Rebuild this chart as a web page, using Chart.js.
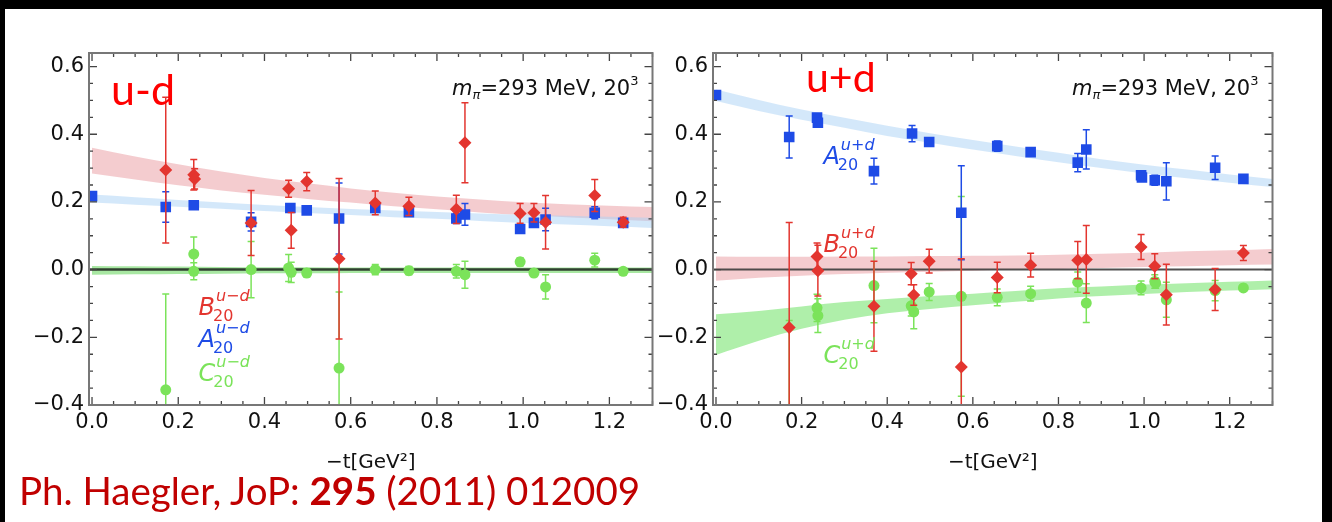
<!DOCTYPE html>
<html>
<head>
<meta charset="utf-8">
<script src="https://cdn.jsdelivr.net/npm/chart.js@4.4.1/dist/chart.umd.min.js"></script>
<style>
  html, body { margin: 0; padding: 0; width: 1332px; height: 522px; overflow: hidden; background: #000; }
  #sheet { position: absolute; left: 5px; top: 9px; width: 1317px; height: 513px; background: #fff; }
  .panel { position: absolute; top: 0; height: 475px; }
  #p1 { left: 0; width: 660px; }
  #p2 { left: 624px; width: 656px; }
  .tag { position: absolute; font-family: Lato, sans-serif; color: #ff0000; line-height: normal; white-space: nowrap; }
  #cite { position: absolute; left: 19px; top: 467px; font-family: Lato, sans-serif; font-size: 38.5px; color: #c00000; white-space: nowrap; line-height: normal; }
</style>
</head>
<body>
<div id="sheet"></div>
<div class="panel" id="p1"><canvas id="ud"></canvas></div>
<div class="panel" id="p2"><canvas id="upd"></canvas></div>
<div class="tag" style="left:111px; top:63px; font-size:43px;">u-d</div>
<div class="tag" style="left:806px; top:52px; font-size:41px;">u+d</div>
<div id="cite">Ph. Haegler, JoP: <b>295</b> (2011) 012009</div>
<script>
// axis setup
const X_MIN = -0.007, X_MAX = 1.3;
const Y_MIN = -0.4, Y_MAX = 0.64;
const xTicks = [0, 0.2, 0.4, 0.6, 0.8, 1.0, 1.2];
const yTicks = [-0.4, -0.2, 0, 0.2, 0.4, 0.6];

// ---- u-d : A20, B20, C20 vs -t ----
const tA_ud = [0, 0.171, 0.236, 0.369, 0.46, 0.498, 0.573, 0.657, 0.735, 0.845, 0.865, 0.993, 1.025, 1.052, 1.166, 1.232];
const A_ud  = [0.217, 0.185, 0.19, 0.141, 0.182, 0.175, 0.151, 0.182, 0.17, 0.151, 0.163, 0.12, 0.138, 0.148, 0.168, 0.138];
const dA_ud = [0.006, 0.045, 0.01, 0.027, 0.012, 0.008, 0.105, 0.012, 0.01, 0.015, 0.032, 0.008, 0.012, 0.033, 0.018, 0.008];

const tB_ud = [0.171, 0.236, 0.238, 0.369, 0.456, 0.462, 0.498, 0.573, 0.657, 0.735, 0.845, 0.865, 0.993, 1.025, 1.052, 1.166, 1.232];
const B_ud  = [0.294, 0.28, 0.268, 0.138, 0.239, 0.116, 0.26, 0.032, 0.197, 0.187, 0.178, 0.375, 0.166, 0.168, 0.14, 0.219, 0.14];
const dB_ud = [0.215, 0.045, 0.03, 0.096, 0.025, 0.053, 0.027, 0.237, 0.035, 0.027, 0.042, 0.118, 0.029, 0.027, 0.079, 0.047, 0.015];

const tC_ud = [0.171, 0.236, 0.236, 0.369, 0.456, 0.462, 0.498, 0.573, 0.657, 0.735, 0.845, 0.865, 0.993, 1.025, 1.052, 1.166, 1.232];
const C_ud  = [-0.355, 0.046, -0.005, 0.0, 0.005, -0.008, -0.01, -0.291, 0.0, -0.003, -0.005, -0.015, 0.023, -0.01, -0.051, 0.028, -0.005];
const dC_ud = [0.283, 0.05, 0.025, 0.083, 0.04, 0.03, 0.012, 0.225, 0.015, 0.012, 0.02, 0.04, 0.012, 0.01, 0.036, 0.02, 0.008];

// ---- u+d ----
const tA_upd = [0, 0.171, 0.236, 0.238, 0.369, 0.458, 0.498, 0.573, 0.657, 0.735, 0.845, 0.865, 0.993, 0.995, 1.025, 1.052, 1.166, 1.232];
const A_upd  = [0.516, 0.392, 0.449, 0.434, 0.291, 0.402, 0.377, 0.168, 0.365, 0.347, 0.316, 0.355, 0.279, 0.272, 0.264, 0.261, 0.301, 0.268];
const dA_upd = [0.008, 0.062, 0.01, 0.012, 0.038, 0.024, 0.01, 0.139, 0.015, 0.01, 0.027, 0.058, 0.01, 0.01, 0.015, 0.055, 0.035, 0.01];

const tB_upd = [0.171, 0.236, 0.238, 0.369, 0.456, 0.462, 0.498, 0.573, 0.657, 0.735, 0.845, 0.865, 0.993, 1.025, 1.052, 1.166, 1.232];
const B_upd  = [-0.171, 0.039, -0.003, -0.108, -0.012, -0.075, 0.025, -0.288, -0.023, 0.013, 0.028, 0.03, 0.067, 0.01, -0.074, -0.059, 0.049];
const dB_upd = [0.31, 0.04, 0.075, 0.133, 0.033, 0.03, 0.035, 0.32, 0.045, 0.035, 0.055, 0.1, 0.037, 0.037, 0.09, 0.062, 0.022];

const tC_upd = [0.171, 0.236, 0.238, 0.369, 0.456, 0.462, 0.498, 0.573, 0.657, 0.735, 0.845, 0.865, 0.993, 1.025, 1.027, 1.052, 1.166, 1.232];
const C_upd  = [-0.46, -0.113, -0.136, -0.047, -0.107, -0.125, -0.066, -0.079, -0.082, -0.071, -0.037, -0.099, -0.054, -0.035, -0.04, -0.089, -0.062, -0.054];
const dC_upd = [0.31, 0.04, 0.05, 0.11, 0.03, 0.05, 0.025, 0.295, 0.025, 0.022, 0.03, 0.057, 0.02, 0.02, 0.015, 0.052, 0.03, 0.01];

// fit bands (lower / upper edge) sampled in -t
const tBand = [0, 0.1, 0.2, 0.3, 0.4, 0.5, 0.6, 0.7, 0.8, 0.9, 1.0, 1.1, 1.2, 1.3];
const bandB_ud_lo = [0.284, 0.266, 0.249, 0.234, 0.221, 0.209, 0.198, 0.187, 0.178, 0.169, 0.161, 0.155, 0.149, 0.143];
const bandB_ud_hi = [0.360, 0.334, 0.311, 0.290, 0.271, 0.255, 0.240, 0.227, 0.216, 0.207, 0.199, 0.193, 0.189, 0.185];
const bandA_ud_lo = [0.198, 0.192, 0.186, 0.180, 0.173, 0.167, 0.161, 0.155, 0.150, 0.144, 0.138, 0.133, 0.128, 0.123];
const bandA_ud_hi = [0.222, 0.214, 0.206, 0.198, 0.191, 0.185, 0.179, 0.175, 0.170, 0.166, 0.162, 0.159, 0.156, 0.153];
const bandC_ud_lo = [-0.015, -0.014, -0.013, -0.012, -0.011, -0.011, -0.010, -0.010, -0.010, -0.010, -0.010, -0.010, -0.010, -0.010];
const bandC_ud_hi = [0.011, 0.010, 0.009, 0.008, 0.007, 0.007, 0.006, 0.006, 0.006, 0.006, 0.006, 0.006, 0.006, 0.006];

const bandA_upd_lo = [0.498, 0.469, 0.443, 0.419, 0.395, 0.375, 0.355, 0.336, 0.317, 0.300, 0.284, 0.270, 0.257, 0.244];
const bandA_upd_hi = [0.532, 0.501, 0.473, 0.449, 0.425, 0.403, 0.383, 0.364, 0.345, 0.326, 0.310, 0.296, 0.281, 0.268];
const bandB_upd_lo = [-0.033, -0.024, -0.018, -0.013, -0.009, -0.006, -0.003, 0.000, 0.002, 0.005, 0.008, 0.010, 0.013, 0.015];
const bandB_upd_hi = [0.039, 0.038, 0.038, 0.039, 0.039, 0.040, 0.041, 0.042, 0.044, 0.047, 0.050, 0.054, 0.057, 0.061];
const bandC_upd_lo = [-0.252, -0.210, -0.175, -0.148, -0.129, -0.116, -0.105, -0.095, -0.085, -0.078, -0.072, -0.066, -0.062, -0.058];
const bandC_upd_hi = [-0.132, -0.122, -0.109, -0.096, -0.087, -0.078, -0.071, -0.063, -0.055, -0.050, -0.044, -0.040, -0.036, -0.032];

const RED = '#e3352f', BLUE = '#1e4be6', GREEN = '#7be35a';
const FONT = 'DejaVu Sans';

function pts(t, v) { return t.map((x, i) => ({ x, y: v[i] })); }

function band(lo, hi, color) {
  return [
    { type: 'line', data: pts(tBand, lo), borderWidth: 0, pointRadius: 0, fill: false,
      cubicInterpolationMode: 'monotone', order: 10 },
    { type: 'line', data: pts(tBand, hi), borderWidth: 0, pointRadius: 0, fill: '-1',
      backgroundColor: color, cubicInterpolationMode: 'monotone', order: 10 }
  ];
}

function series(t, v, err, color, style, radius, order) {
  return { type: 'scatter', data: pts(t, v), errors: err, errColor: color,
    pointStyle: style, pointRadius: radius, pointHoverRadius: radius,
    backgroundColor: color, borderColor: color, pointBorderWidth: 0, order };
}

function zeroLine(color, width) {
  return { type: 'line', data: [{ x: X_MIN, y: 0 }, { x: X_MAX, y: 0 }],
    borderColor: color, borderWidth: width, pointRadius: 0, fill: false, order: 5 };
}

// vertical error bars with caps, drawn just under each marker set
const errorBars = {
  id: 'errorBars',
  beforeDatasetDraw(chart, args) {
    const ds = chart.data.datasets[args.index];
    if (!ds.errors) return;
    const { ctx, chartArea: a, scales: { x, y } } = chart;
    ctx.save();
    ctx.beginPath();
    ctx.rect(a.left, a.top, a.right - a.left, a.bottom - a.top);
    ctx.clip();
    ctx.strokeStyle = ds.errColor;
    ctx.lineWidth = 1.5;
    ds.data.forEach((p, i) => {
      const e = ds.errors[i];
      const px = x.getPixelForValue(p.x);
      const top = y.getPixelForValue(p.y + e), bot = y.getPixelForValue(p.y - e);
      ctx.beginPath();
      ctx.moveTo(px, top); ctx.lineTo(px, bot);
      ctx.moveTo(px - 3.5, top); ctx.lineTo(px + 3.5, top);
      ctx.moveTo(px - 3.5, bot); ctx.lineTo(px + 3.5, bot);
      ctx.stroke();
    });
    ctx.restore();
  }
};

// frame with inward ticks on all four sides
const frameTicks = {
  id: 'frameTicks',
  afterDatasetsDraw(chart) {
    const { ctx, chartArea: a, scales: { x, y } } = chart;
    ctx.save();
    ctx.strokeStyle = '#444';
    ctx.lineWidth = 1.3;
    ctx.beginPath();
    for (let i = Math.ceil(x.min / 0.05 - 1e-9); i * 0.05 <= x.max + 1e-9; i++) {
      const px = x.getPixelForValue(i * 0.05);
      const len = i % 4 === 0 ? 8 : 4;
      ctx.moveTo(px, a.bottom); ctx.lineTo(px, a.bottom - len);
      ctx.moveTo(px, a.top); ctx.lineTo(px, a.top + len);
    }
    for (let i = Math.ceil(y.min / 0.05 - 1e-9); i * 0.05 <= y.max + 1e-9; i++) {
      const py = y.getPixelForValue(i * 0.05);
      const len = i % 4 === 0 ? 8 : 4;
      ctx.moveTo(a.left, py); ctx.lineTo(a.left + len, py);
      ctx.moveTo(a.right, py); ctx.lineTo(a.right - len, py);
    }
    ctx.stroke();
    ctx.strokeStyle = '#777';
    ctx.lineWidth = 2;
    ctx.strokeRect(a.left, a.top, a.right - a.left, a.bottom - a.top);
    ctx.restore();
  }
};

function drawRuns(ctx, x, base, runs) {
  let xx = x;
  runs.forEach(r => {
    ctx.font = r.f;
    ctx.fillText(r.s, xx, base + (r.dy || 0));
    xx += ctx.measureText(r.s).width;
  });
}

function runsWidth(ctx, runs) {
  let w = 0;
  runs.forEach(r => { ctx.font = r.f; w += ctx.measureText(r.s).width; });
  return w;
}

// panel annotations: pion mass / volume note and the form-factor names
function panelText(sign, names) {
  return {
    id: 'panelText',
    afterDraw(chart) {
      const { ctx, chartArea: a, scales: { x, y } } = chart;
      ctx.save();
      ctx.textBaseline = 'alphabetic';
      ctx.fillStyle = '#111';
      const note = [
        { s: 'm', f: `italic 21px "${FONT}"` },
        { s: 'π', f: `italic 13px "${FONT}"`, dy: 4 },
        { s: '=293 MeV, 20', f: `21px "${FONT}"` },
        { s: '3', f: `13px "${FONT}"`, dy: -10 }
      ];
      drawRuns(ctx, a.right - 14 - runsWidth(ctx, note), a.top + 42, note);
      names.forEach(n => {
        ctx.fillStyle = n.color;
        const px = x.getPixelForValue(n.t), py = y.getPixelForValue(n.v);
        ctx.font = `italic 24px "${FONT}"`;
        ctx.fillText(n.letter, px, py);
        const w = ctx.measureText(n.letter).width;
        ctx.font = `italic 16px "${FONT}"`;
        ctx.fillText(sign, px + w + 1, py - 14);
        ctx.font = `16px "${FONT}"`;
        ctx.fillText('20', px + w - 2, py + 6);
      });
      ctx.restore();
    }
  };
}

function tickLabel(v) {
  const s = Math.abs(v).toFixed(1);
  return v < -1e-9 ? '−' + s : s;
}

function options(yWidth, padRight) {
  return {
    responsive: true,
    maintainAspectRatio: false,
    animation: false,
    devicePixelRatio: 1,
    layout: { padding: { top: 53, right: padRight, left: 0, bottom: 0 } },
    plugins: { legend: { display: false }, tooltip: { enabled: false } },
    scales: {
      x: {
        type: 'linear', min: X_MIN, max: X_MAX,
        afterBuildTicks: s => { s.ticks = xTicks.map(v => ({ value: v })); },
        afterFit: s => { s.height = 70; },
        grid: { display: false, drawTicks: false },
        border: { display: false },
        ticks: { font: { family: FONT, size: 21 }, color: '#111', padding: 5,
                 maxRotation: 0, autoSkip: false, callback: tickLabel },
        title: { display: true, text: '−t[GeV²]', color: '#111',
                 font: { family: FONT, size: 20 }, padding: { top: 0, bottom: 0 } }
      },
      y: {
        type: 'linear', min: Y_MIN, max: Y_MAX,
        afterBuildTicks: s => { s.ticks = yTicks.map(v => ({ value: v })); },
        afterFit: s => { s.width = yWidth; },
        grid: { display: false, drawTicks: false },
        border: { display: false },
        ticks: { font: { family: FONT, size: 21 }, color: '#111', padding: 5,
                 autoSkip: false, callback: tickLabel }
      }
    }
  };
}

// u-d panel
new Chart(document.getElementById('ud'), {
  type: 'scatter',
  data: {
    datasets: [
      ...band(bandA_ud_lo, bandA_ud_hi, 'rgba(170,210,245,0.5)'),
      ...band(bandB_ud_lo, bandB_ud_hi, 'rgba(225,120,130,0.38)'),
      ...band(bandC_ud_lo, bandC_ud_hi, 'rgba(110,215,100,0.6)'),
      zeroLine('rgba(35,45,35,0.9)', 2.5),
      series(tC_ud, C_ud, dC_ud, GREEN, 'circle', 5.5, 3),
      series(tA_ud, A_ud, dA_ud, BLUE, 'rect', 7.5, 2),
      series(tB_ud, B_ud, dB_ud, RED, 'rectRot', 6.5, 1)
    ]
  },
  options: options(89, 6),
  plugins: [errorBars, frameTicks, panelText('u−d', [
    { letter: 'B', t: 0.247, v: -0.133, color: RED },
    { letter: 'A', t: 0.247, v: -0.228, color: BLUE },
    { letter: 'C', t: 0.247, v: -0.328, color: GREEN }
  ])]
});

// u+d panel
new Chart(document.getElementById('upd'), {
  type: 'scatter',
  data: {
    datasets: [
      ...band(bandA_upd_lo, bandA_upd_hi, 'rgba(170,210,245,0.5)'),
      ...band(bandB_upd_lo, bandB_upd_hi, 'rgba(225,120,130,0.38)'),
      ...band(bandC_upd_lo, bandC_upd_hi, 'rgba(110,225,100,0.55)'),
      zeroLine('rgba(60,60,60,0.9)', 2),
      series(tC_upd, C_upd, dC_upd, GREEN, 'circle', 5.5, 3),
      series(tA_upd, A_upd, dA_upd, BLUE, 'rect', 7.5, 2),
      series(tB_upd, B_upd, dB_upd, RED, 'rectRot', 6.5, 1)
    ]
  },
  options: options(89, 3),
  plugins: [errorBars, frameTicks, panelText('u+d', [
    { letter: 'A', t: 0.251, v: 0.311, color: BLUE },
    { letter: 'B', t: 0.251, v: 0.053, color: RED },
    { letter: 'C', t: 0.251, v: -0.275, color: GREEN }
  ])]
});
</script>
</body>
</html>
